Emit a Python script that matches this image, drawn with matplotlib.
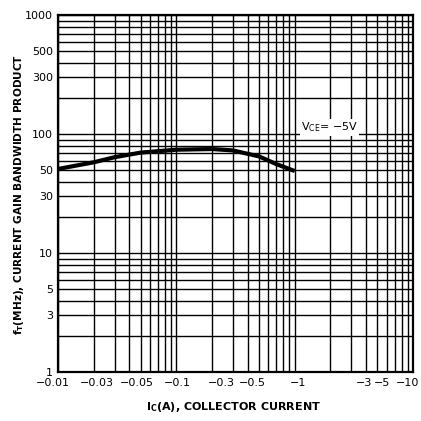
import numpy as np
import matplotlib
matplotlib.use('Agg')
import matplotlib.pyplot as plt
import matplotlib.transforms as mtransforms
from matplotlib.ticker import FixedLocator, FixedFormatter, LogLocator, NullFormatter

# collector current (A) and gain-bandwidth product (MHz)
ic = [-0.01, -0.02, -0.03, -0.05, -0.1, -0.2, -0.3, -0.5, -0.7, -1.0]
ft = [51, 58, 64, 70, 74, 75, 73, 65, 56, 49]

xticks = [0.01, 0.03, 0.05, 0.1, 0.3, 0.5, 1, 3, 5, 10]
xlabels = ['\u22120.01', '\u22120.03', '\u22120.05', '\u22120.1', '\u22120.3',
           '\u22120.5', '\u22121', '\u22123', '\u22125', '\u221210']
yticks = [1, 3, 5, 10, 30, 50, 100, 300, 500, 1000]
ylabels = ['1', '3', '5', '10', '30', '50', '100', '300', '500', '1000']

# the printed labels sit a bit off their grid lines (pixels)
xlabel_shift = [-5, -18, -4, 1, -11, -7, 3, 13, 5, -5]

plt.rcParams['font.family'] = ['DejaVu Sans']
plt.rcParams['mathtext.fontset'] = 'dejavusans'

fig = plt.figure(figsize=(4.21, 4.21), dpi=100)
ax = fig.add_axes([0.138, 0.116, 0.843, 0.848])

ax.plot(np.abs(ic), ft, color='black', lw=3.0, solid_capstyle='butt')

ax.set_xscale('log')
ax.set_yscale('log')
ax.set_xlim(0.01, 10)
ax.set_ylim(1, 1000)

ax.xaxis.set_major_locator(FixedLocator(xticks))
ax.xaxis.set_major_formatter(FixedFormatter(xlabels))
ax.yaxis.set_major_locator(FixedLocator(yticks))
ax.yaxis.set_major_formatter(FixedFormatter(ylabels))
ax.xaxis.set_minor_locator(LogLocator(base=10, subs=np.arange(1, 10)))
ax.yaxis.set_minor_locator(LogLocator(base=10, subs=np.arange(1, 10)))
ax.xaxis.set_minor_formatter(NullFormatter())
ax.yaxis.set_minor_formatter(NullFormatter())

ax.grid(True, which='both', color='black', lw=1.0)
ax.tick_params(which='both', length=0, labelsize=8)
ax.tick_params(axis='x', pad=4)
ax.tick_params(axis='y', pad=3.5)
for s in ax.spines.values():
    s.set_linewidth(1.6)

for lab, dx in zip(ax.get_xticklabels(), xlabel_shift):
    off = mtransforms.ScaledTranslation(dx / 100, 0, fig.dpi_scale_trans)
    lab.set_transform(lab.get_transform() + off)

ax.text(1.13, 114, 'V$_{\\mathrm{CE}}$= \u22125V',
        fontsize=8, va='center', ha='left',
        bbox=dict(facecolor='white', edgecolor='none', pad=1))

fig.text(0.045, 0.537, r'$\mathbf{f_T}$(MHz), CURRENT GAIN BANDWIDTH PRODUCT',
         rotation=90, ha='center', va='center', fontsize=7.6, fontweight='bold')
fig.text(0.554, 0.033, r'$\mathbf{I_C}$(A), COLLECTOR CURRENT',
         ha='center', va='center', fontsize=8, fontweight='bold')

fig.savefig('out.png', dpi=100, facecolor='white')
